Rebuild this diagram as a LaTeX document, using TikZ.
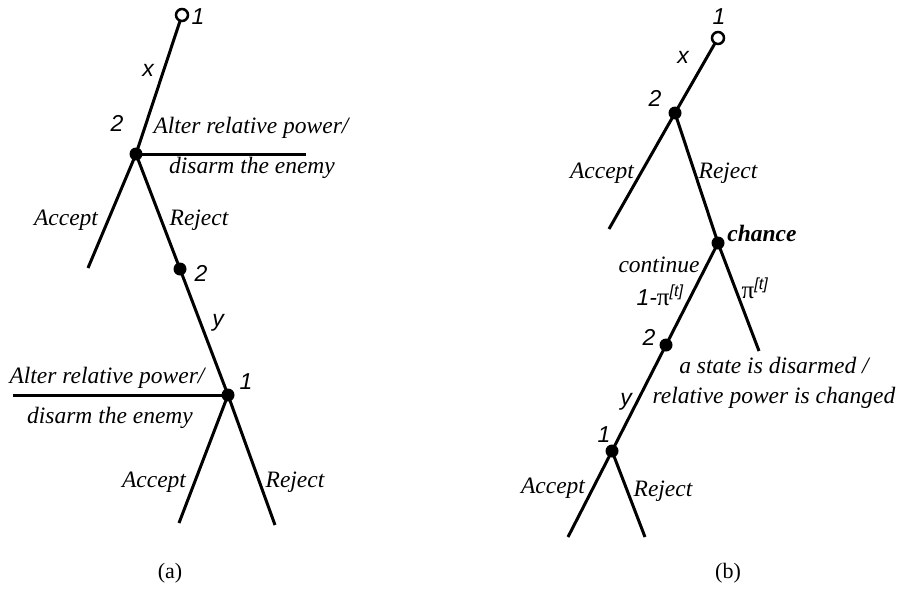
\documentclass[tikz,border=0pt]{standalone}
\usepackage{fontspec}
\setmainfont{Liberation Serif}
\newfontfamily\sansf{Liberation Sans}
\begin{document}
\begin{tikzpicture}[x=1pt,y=-1pt,
  edge/.style={line width=3pt},
  dot/.style={circle,fill=black,inner sep=0pt,minimum size=13pt},
  opendot/.style={circle,draw=black,fill=white,line width=2.5pt,inner sep=0pt,minimum size=12pt},
  num/.style={font=\sansf\itshape\fontsize{23}{25}\selectfont,inner sep=0pt},
  lab/.style={font=\itshape\fontsize{23.5}{27}\selectfont,inner sep=0pt},
  captxt/.style={font=\fontsize{22}{24}\selectfont,inner sep=0pt}]
\useasboundingbox (0,0) rectangle (908,589);
% ---------- panel (a) ----------
\coordinate (aR) at (182,15);
\coordinate (aN2) at (136,154);
\coordinate (aAlt) at (306,154);
\coordinate (aAcc) at (88,268);
\coordinate (aM2) at (180,269);
\coordinate (aN1) at (228,395);
\coordinate (aAlt2) at (13,395);
\coordinate (aAcc2) at (179,523);
\coordinate (aRej2) at (275,525);
\draw[edge] (aR) -- (aN2);
\draw[edge] (aN2) -- (aAlt);
\draw[edge] (aN2) -- (aAcc);
\draw[edge] (aN2) -- (aM2);
\draw[edge] (aM2) -- (aN1);
\draw[edge] (aN1) -- (aAlt2);
\draw[edge] (aN1) -- (aAcc2);
\draw[edge] (aN1) -- (aRej2);
\node[opendot] (aRd) at (aR) {};
\node[dot] (aN2d) at (aN2) {};
\node[dot] (aM2d) at (aM2) {};
\node[dot] (aN1d) at (aN1) {};
\node[num] (la1) at (198,17) {1};
\node[num] (lax) at (148,70) {x};
\node[num] (la2) at (117,123) {2};
\node[lab] (laAlt) at (251,128) {Alter relative power/};
\node[lab] (laDis) at (252,168) {disarm the enemy};
\node[lab] (laAcc) at (66,220) {Accept};
\node[lab] (laRej) at (199,220) {Reject};
\node[num] (la2b) at (201,273) {2};
\node[num] (lay) at (218,323) {y};
\node[num] (la1b) at (246,382) {1};
\node[lab] (laAlt2) at (107,378) {Alter relative power/};
\node[lab] (laDis2) at (110,418) {disarm the enemy};
\node[lab] (laAcc2) at (154,482) {Accept};
\node[lab] (laRej2) at (295,482) {Reject};
\node[captxt] (capa) at (170,573) {(a)};
% ---------- panel (b) ----------
\coordinate (bR) at (718,38);
\coordinate (bN2) at (675,113);
\coordinate (bAcc) at (609,229);
\coordinate (bCh) at (718,243);
\coordinate (bPi) at (759,351);
\coordinate (bM2) at (666,345);
\coordinate (bN1) at (612,451);
\coordinate (bAcc2) at (568,537);
\coordinate (bRej2) at (645,537);
\draw[edge] (bR) -- (bN2);
\draw[edge] (bN2) -- (bAcc);
\draw[edge] (bN2) -- (bCh);
\draw[edge] (bCh) -- (bPi);
\draw[edge] (bCh) -- (bM2);
\draw[edge] (bM2) -- (bN1);
\draw[edge] (bN1) -- (bAcc2);
\draw[edge] (bN1) -- (bRej2);
\node[opendot] (bRd) at (bR) {};
\node[dot] (bN2d) at (bN2) {};
\node[dot] (bChd) at (bCh) {};
\node[dot] (bM2d) at (bM2) {};
\node[dot] (bN1d) at (bN1) {};
\node[num] (lb1) at (719,17) {1};
\node[num] (lbx) at (683,57) {x};
\node[num] (lb2) at (655,98) {2};
\node[lab] (lbAcc) at (602,173) {Accept};
\node[lab] (lbRej) at (728,173) {Reject};
\node[lab,font=\bfseries\itshape\fontsize{23.5}{27}\selectfont] (lbCh) at (762,233) {chance};
\node[lab] (lbCont) at (659,265) {continue};
\node[num] (lbOne) at (660,295) {1-{\rmfamily\upshape\fontsize{25}{25}\selectfont π}\textsuperscript{[t]}};
\node[num] (lbPi) at (755,288) {{\rmfamily\upshape\fontsize{25}{25}\selectfont π}\textsuperscript{[t]}};
\node[num] (lb2b) at (649,337) {2};
\node[lab] (lbSt) at (774,365) {a state is disarmed /};
\node[lab] (lbRel) at (774,398) {relative power is changed};
\node[num] (lby) at (626,402) {y};
\node[num] (lb1b) at (604,435) {1};
\node[lab] (lbAcc2) at (553,488) {Accept};
\node[lab] (lbRej2) at (663,491) {Reject};
\node[captxt] (capb) at (728,573) {(b)};
\end{tikzpicture}
\end{document}
